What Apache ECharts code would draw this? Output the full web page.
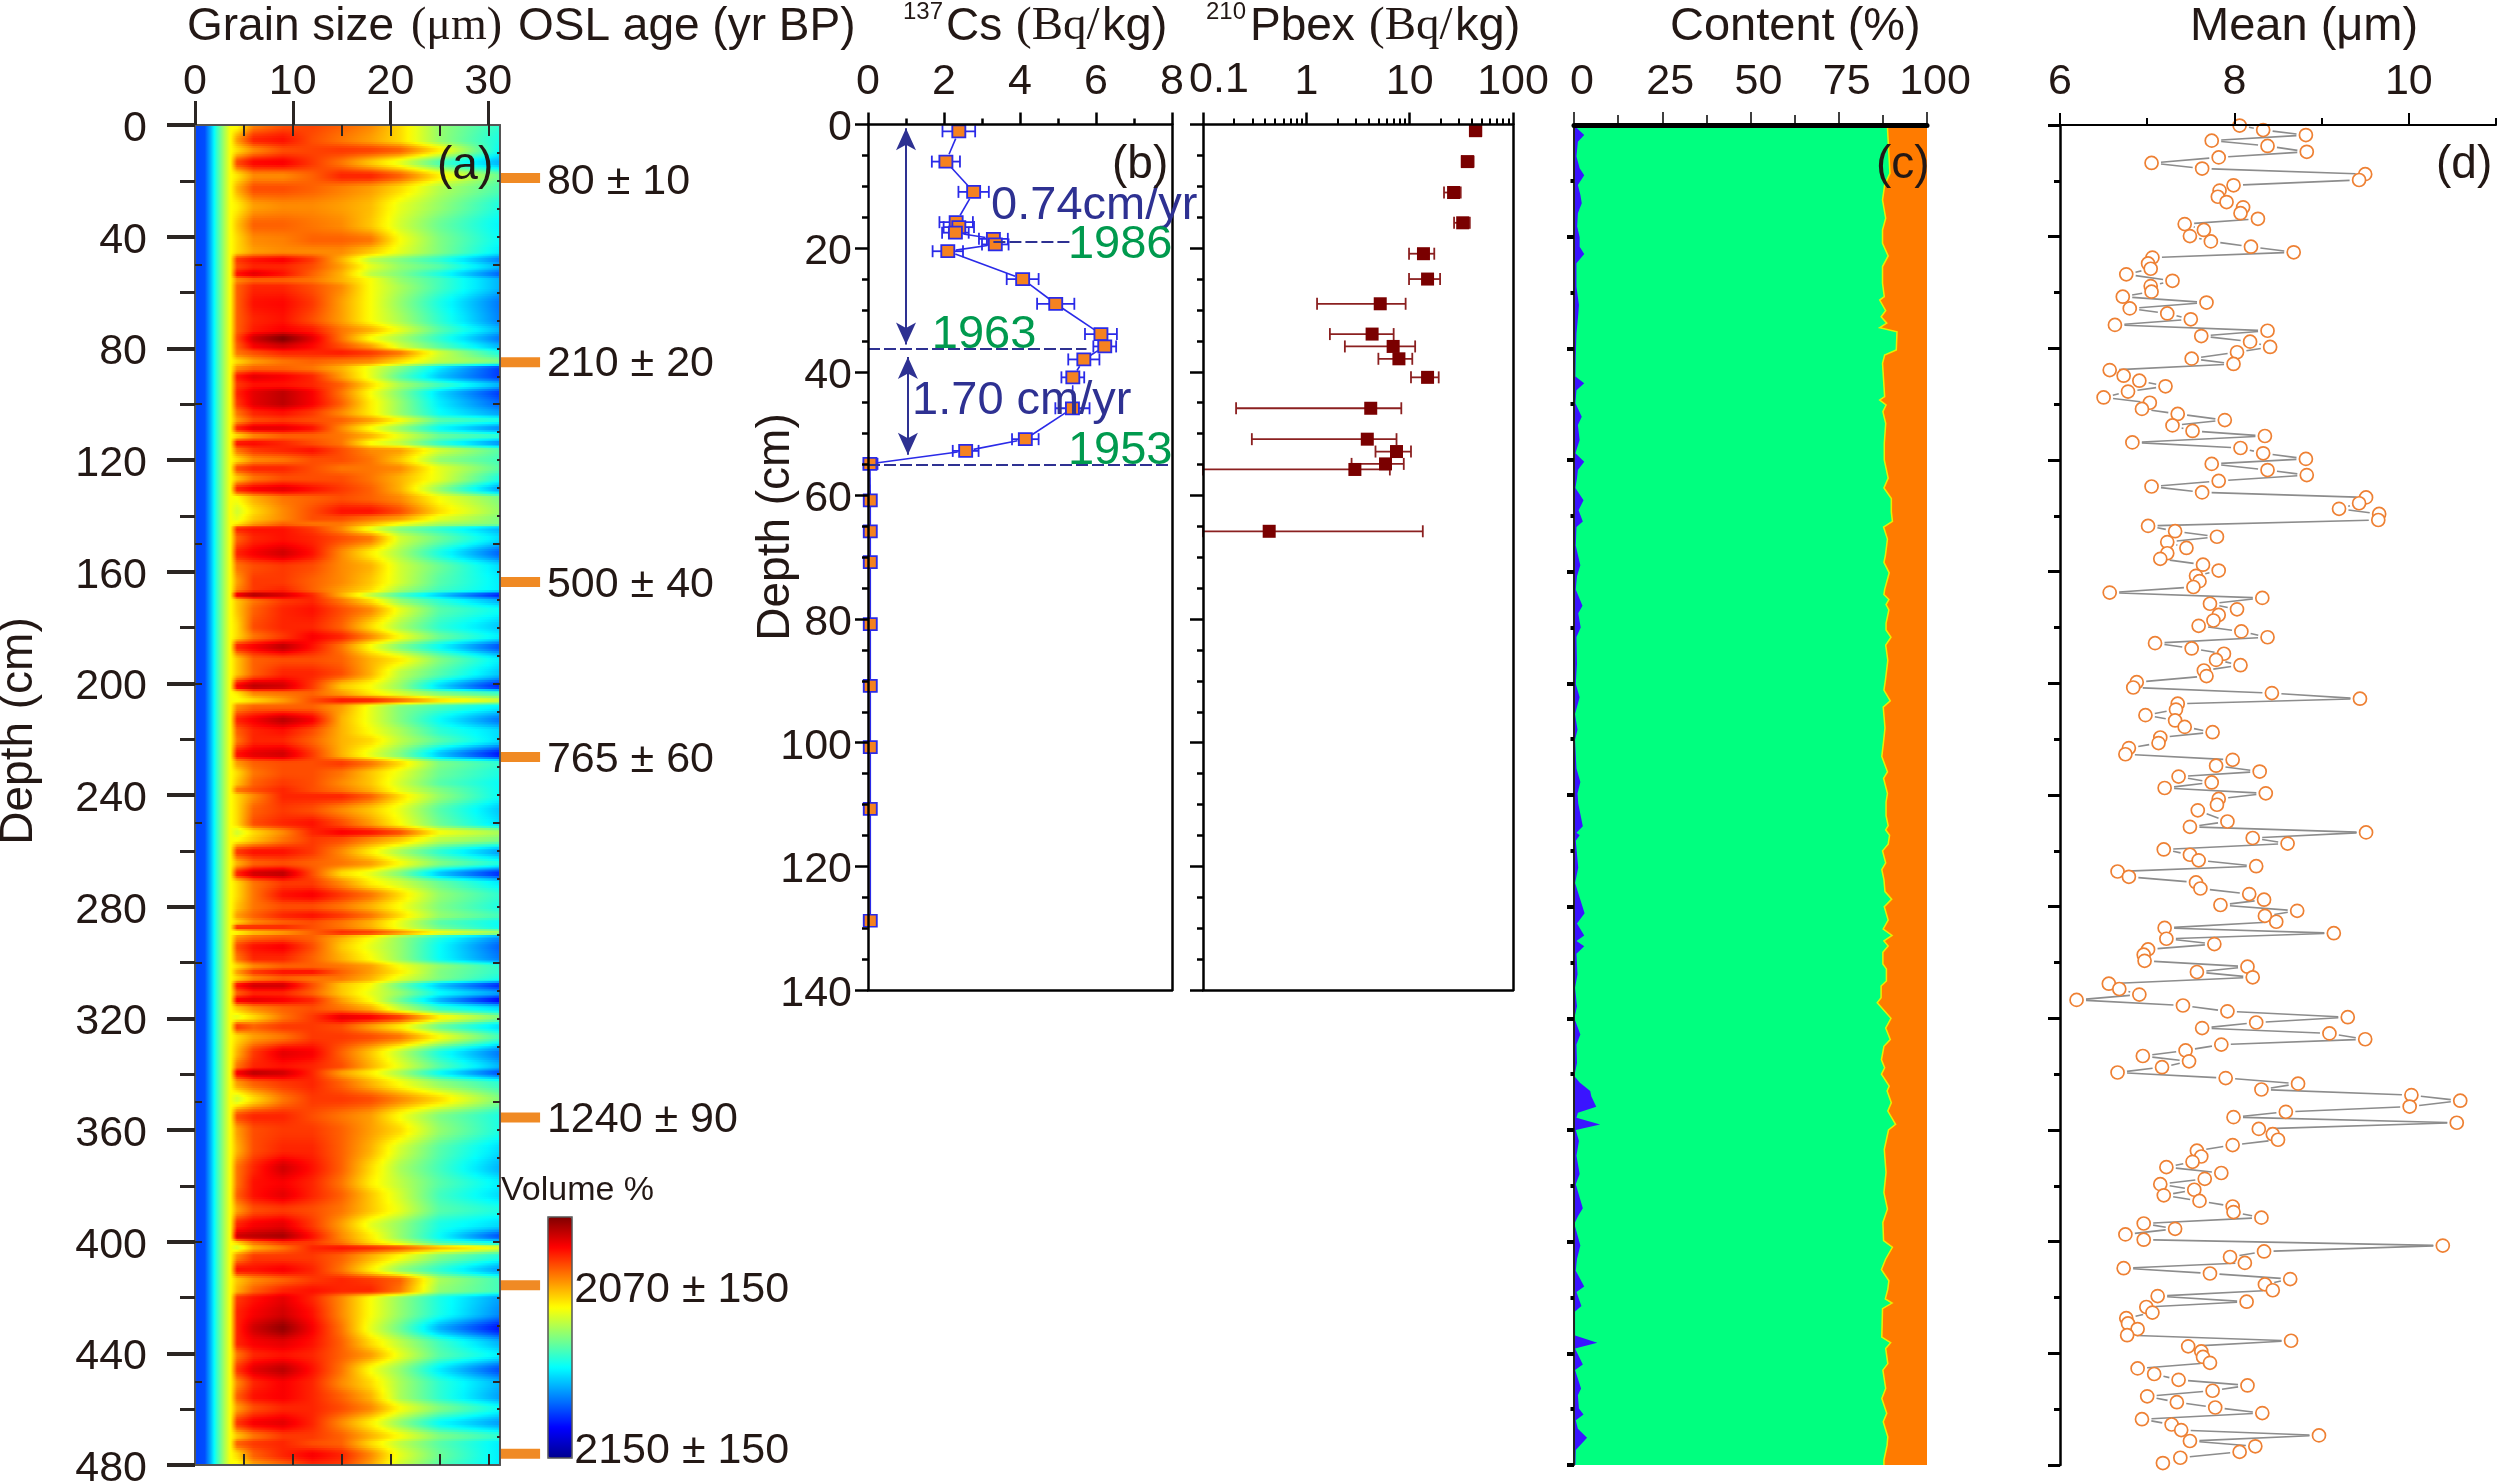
<!DOCTYPE html>
<html><head><meta charset="utf-8">
<style>html,body{margin:0;padding:0;background:#fff}#c{width:2500px;height:1483px}</style>
<script src="https://cdn.jsdelivr.net/npm/echarts@6/dist/echarts.min.js"></script>
</head><body><div id="c"></div>
<script>
// ---------- Panel (a): grain-size volume % read at these depths (cm) and sizes (um)
const edgeX=[0,1,1.6,2.2,3,3.6];
const edgeValues=[19,20,30,42,54,62];
const heatX=[4.3,6,9,12,15,18,21,25,31.2];
const heatDepth=[0,5.4,9,13.5,18.3,22.7,29.2,35.8,41.2,45.4,48.3,50.7,53.4,55.5,57.9,63.9,69.8,73.4,76.4,79.4,81.5,84.8,87.1,90.1,93.1,96,99.7,103.3,105.7,108.6,111.4,114,116.4,120,123,126.5,130.5,133.7,138.5,141,142.9,144.5,148,153.4,158.2,163.6,166.6,168.3,170.4,173.7,179.7,183.3,186.8,191.6,196.4,201.2,203.6,206.2,208.3,213.1,217.3,220.3,225.6,228.6,232.2,235.8,238.2,240.3,245.4,250.2,253.4,255.9,260.3,264.5,268.1,271.6,275.8,280,283.3,285.7,287.3,289.3,291,294.3,298.5,301.5,303.3,305.7,308.1,311,313.4,316.4,319.6,323,326.6,332.5,337.3,339.4,343.3,349,355.2,360,367.1,373.7,379.1,383.2,388.6,394,398.2,400.5,402,405.3,410.1,413.7,417.5,420.2,425.6,431,436.4,440.5,445.9,450.7,455.5,459.6,465,469.8,472.2,476.4,480];
const heatValues=[
[62,75,80,81,78,74,66,52,42],[72,84,86,80,76,72,66,52,40],[66,74,80,81,82,81,78,64,38],[80,87,88,82,76,68,60,45,30],[65,74,74,78,84,84,78,64,48],[70,80,80,78,75,72,66,55,45],[64,72,74,74,72,69,60,52,40],[68,78,78,76,74,68,58,48,37],[66,74,75,78,78,76,62,50,38],[66,72,74,74,74,68,60,50,36],
[82,86,88,82,70,56,50,42,25],[80,84,84,80,72,60,52,46,30],[86,90,86,78,70,56,50,40,22],[74,78,78,76,70,62,52,44,30],[78,84,84,80,74,62,54,44,30],[78,86,87,82,72,62,52,40,24],[78,84,86,80,72,62,54,42,25],[78,85,88,85,76,70,60,46,30],[80,92,100,90,76,62,54,42,24],[78,88,92,87,80,72,58,46,30],
[76,80,84,84,85,82,76,58,40],[66,72,76,78,76,74,66,56,50],[74,78,78,76,70,60,50,35,18],[85,90,88,84,72,60,46,32,18],[82,86,86,84,78,66,54,44,30],[84,90,94,88,76,62,50,34,18],[82,90,94,88,78,64,52,36,22],[76,84,86,82,74,64,52,38,28],[72,80,82,80,78,72,62,46,40],[84,90,90,86,74,62,52,38,26],
[66,74,78,78,76,70,60,48,42],[86,87,84,80,76,62,56,42,26],[76,82,84,86,80,74,72,58,46],[66,74,76,80,80,76,68,52,44],[80,84,84,80,76,76,74,60,46],[68,76,80,80,80,76,70,60,40],[84,88,90,86,82,78,70,52,28],[62,70,76,78,80,78,74,62,50],[58,66,74,80,86,86,80,66,52],[60,68,74,80,80,76,72,60,50],
[64,72,78,76,76,70,62,54,50],[84,86,86,82,74,60,50,42,30],[78,84,86,84,80,76,58,48,34],[84,88,92,86,74,64,54,40,22],[76,80,82,80,74,70,58,48,34],[72,82,82,78,74,68,58,46,36],[74,82,84,78,72,66,54,44,36],[90,96,92,84,70,56,44,32,14],[68,76,82,84,76,66,52,42,30],[68,78,84,86,80,74,60,46,38],
[66,80,84,84,78,66,54,42,32],[66,76,82,88,84,74,62,48,36],[84,88,94,86,76,62,50,38,20],[68,78,80,80,78,70,64,50,36],[68,78,84,84,80,70,56,46,32],[88,94,92,82,68,62,52,34,15],[64,74,76,78,72,64,58,50,44],[62,66,72,80,86,85,78,66,58],[74,78,78,78,72,60,50,44,36],[84,88,94,88,70,60,50,38,24],
[78,84,86,80,70,62,54,42,34],[76,84,84,78,70,66,56,46,34],[86,90,92,82,70,60,50,32,14],[72,78,80,80,82,76,66,50,42],[66,76,80,80,76,68,60,48,40],[68,78,82,80,74,68,58,46,38],[76,80,84,80,76,70,60,50,38],[66,74,84,84,84,78,66,52,38],[66,78,82,80,74,68,60,46,32],[66,80,84,86,80,72,62,48,34],
[58,66,74,84,88,86,80,62,54],[62,68,76,82,80,74,68,56,50],[82,86,86,82,74,64,54,42,28],[70,78,80,78,76,72,62,50,40],[84,92,94,80,66,60,50,32,16],[66,76,82,82,74,64,58,48,36],[66,76,86,88,82,76,66,52,42],[68,76,80,80,76,70,62,50,40],[72,78,84,86,82,76,66,52,44],[66,74,78,80,76,70,60,46,38],
[84,84,84,80,76,70,60,48,38],[62,68,72,78,84,82,74,62,54],[74,78,80,78,70,62,52,40,26],[80,86,88,80,68,60,52,38,22],[76,84,84,78,70,62,52,38,24],[66,74,78,78,76,72,62,52,42],[72,82,86,86,78,72,64,50,42],[66,74,78,76,76,70,60,50,40],[86,92,92,80,68,62,48,32,16],[78,84,84,78,68,60,52,38,28],
[88,90,88,84,72,62,48,30,12],[68,74,78,80,76,70,56,42,34],[60,66,76,82,90,88,82,64,50],[82,78,82,82,80,72,64,48,34],[66,72,76,82,82,80,76,62,44],[70,82,90,88,78,68,56,40,24],[76,84,86,84,80,70,60,46,30],[88,94,92,84,72,64,54,38,20],[72,78,82,84,78,70,62,52,42],[58,66,76,82,82,80,74,66,50],
[80,84,84,80,76,72,62,50,40],[72,80,82,82,78,72,66,52,40],[70,80,84,84,78,70,58,46,34],[76,84,92,86,78,66,54,44,30],[76,86,88,84,76,64,56,46,36],[78,86,90,84,78,68,58,44,34],[72,80,82,80,76,68,60,46,40],[84,88,90,82,72,60,52,40,34],[92,94,96,86,74,64,52,38,20],[66,76,82,82,76,66,58,44,38],
[58,70,76,84,86,84,80,70,60],[74,82,82,82,78,70,62,50,40],[86,86,88,84,76,64,52,42,28],[68,74,78,82,84,82,78,54,44],[70,78,84,86,84,84,76,52,44],[82,86,90,84,74,62,52,40,28],[84,88,92,86,74,62,52,40,26],[84,92,98,88,76,60,48,30,14],[84,88,90,86,78,66,56,44,30],[76,84,86,84,78,72,60,46,36],
[82,90,94,86,76,62,52,36,20],[74,84,88,84,74,66,54,42,30],[78,86,88,84,78,70,54,42,28],[72,80,84,84,80,74,62,50,38],[82,88,90,84,74,64,52,38,28],[68,76,82,82,78,70,62,50,42],[78,82,84,80,78,66,56,46,36],[66,78,84,88,84,74,60,48,36],[62,72,78,84,82,72,58,46,36]];
const oslDepth=[19,85,163.7,226.4,355.5,415.6,476];
const oslLabelDepth=[20.5,85.5,164.7,227.4,356.5,417.5,475];
const oslLabelX=[36,36,36,36,36,38.8,38.8];
const oslLabels=['80 ± 10','210 ± 20','500 ± 40','765 ± 60','1240 ± 90','2070 ± 150','2150 ± 150'];
// ---------- Panel (b): 137Cs
const csDepth=[1.1,6,10.9,15.8,16.6,17.5,18.5,19.4,20.5,25,29,33.9,35.9,38,40.9,45.9,50.9,52.8,54.9,60.8,65.8,70.8,80.8,90.8,100.7,110.7,128.8];
const csValue=[2.39,2.05,2.78,2.32,2.39,2.30,3.30,3.35,2.10,4.07,4.94,6.13,6.23,5.68,5.39,5.38,4.14,2.57,0.05,0.06,0.06,0.06,0.06,0.06,0.06,0.06,0.06];
const csError=[0.43,0.37,0.40,0.44,0.40,0.35,0.38,0.35,0.40,0.42,0.49,0.42,0.30,0.41,0.30,0.45,0.35,0.34,0.20,0,0,0,0,0,0,0,0];
const csNotes=[[3.24,13.2,'0.74cm/yr','#2e3192'],[1.16,44.7,'1.70 cm/yr','#2e3192'],[5.26,19.5,'1986','#009a4e'],[1.68,34,'1963','#009a4e'],[5.26,52.8,'1953','#009a4e']];
// ---------- Panel (b): 210Pbex
const pbDepth=[1,6,11,15.9,20.9,25,29,33.9,35.9,37.9,40.9,45.9,50.9,52.9,54.9,55.8,65.8];
const pbValue=[43.4,36.2,26.6,32.6,13.6,14.9,5.19,4.33,6.92,7.87,14.9,4.2,3.89,7.46,5.84,2.95,0.437];
const pbLow=[38.2,31.9,21.5,26.9,9.86,9.86,1.27,1.69,2.36,4.98,10.3,0.209,0.297,4.67,2.74,0.1,0.1];
const pbHigh=[49.4,41.6,31.2,38.2,17.3,19.7,9.14,7,11.3,10.6,19.1,8.3,7.46,10.3,8.77,6.43,13.4];
// ---------- Panel (c): content boundaries
const sandDepth=[0,1,17.3,21.5,26.9,33.4,37.6,42.4,46.9,50.7,56.7,61.5,62.7,66.5,68.7,71,72.6,74.1,80.6,82.4,85.4,91.3,97.3,98.5,100.3,102.7,106.9,114,120,126.5,130,133.8,138.6,142,144,148.3,154.3,156.7,160.4,166.4,168.2,170,171.8,173.7,178.5,180.9,183.5,186.3,191.8,199,202.4,206.3,208.5,216,220.8,226.2,231.7,234,239.5,242.5,247.4,251,252.5,254.4,257.6,260,264.3,266.7,270.3,274.6,277.3,280,284.8,288,290.3,292.3,294.1,296.3,300.5,302.3,306.6,308.4,312.6,314.4,320,323.5,327.6,330,334.8,337.7,340,344.3,346,350.2,353.2,358,360,366.9,375.2,382.4,388.3,393.1,399.6,402,406.2,410,414,417,420.5,422,424,434.2,436.2,438.3,443.7,446,452.6,456.2,461.5,464.5,469.9,472.9,478.2,480];
const sandValue=[88.8,88.8,89.5,88,87.4,88.3,87.4,87.4,89,87.4,87.4,87.9,86.6,88.3,87,88.6,86.6,91.5,91.3,88,87.4,87.7,88,86.6,88.4,87.5,88.3,87.9,87.9,89,87.8,89.9,89.9,90.2,87.7,88.8,88.2,87.8,89.3,88,87.8,89.2,88.4,89.2,88.4,88.4,89.8,88.3,88.9,88.2,87.8,89.6,87.6,88.1,87.7,87.2,88.8,87.7,88.8,88.4,88.4,89,88.3,89.4,89,87.4,88.3,87.2,87.8,88.1,90,87.9,89,87.6,90.1,87.8,89,87.5,87.5,88.5,88.5,87,87,85.9,89.8,88.3,89.6,87.8,87.1,88,87.1,89.3,88.7,89.9,88.9,91.1,89.1,87.9,88.4,87.8,88.8,87.5,87.7,90.2,88.3,87.1,89.2,88.9,88.2,90.1,87.4,87.2,89.7,88.3,88.9,87.5,88.3,87.2,88.6,87.6,88.9,88.7,87.8,87.8];
const clayDepth=[0,1,3.6,6,11.3,15.5,18,21.5,25,28,31.6,36.4,40.2,43.6,46.2,49.5,57.9,64.5,68,74.6,83,90.1,92.5,95,99.7,104.5,107.5,112.8,117.6,120.6,123.6,126.5,130,134.4,138,142,144,150.7,157.7,161.6,166.4,172.2,174.9,180,183.4,193,200.2,205,211,216.6,220.2,230.5,235.3,239.5,243,251.2,253.5,254.4,256.4,266.1,271.5,282.4,286,290.3,292.3,294.2,296.9,304.2,309,315.7,320,325.8,329.4,336,340.7,343,346,347.9,351.7,353.8,355.6,358,360,363.9,369.2,375.8,379.4,388,390.7,393.6,401.4,406.2,410.4,416.1,418,423,425,433.6,436.2,438.3,444,446,452.6,455,459.8,461.9,464,467,470.2,474.6,480];
const clayValue=[0.7,0.7,2.9,1.1,0.7,1.6,2.9,1.1,1.8,2.2,1.1,0.9,1.6,1.6,2.9,0.7,0.7,1.4,1.2,0.7,0.5,0.4,2.9,0.7,0.4,2.2,1.1,1.6,0.4,2.9,1.1,0.85,0.4,2.7,1.3,2.5,0.7,0.5,1.8,0.85,0.5,2.4,1.2,1.9,0.7,0.85,0.5,1.6,0.3,1,0.3,0.7,1.8,1,1.2,2.5,0.7,1.6,0.5,1.2,0.3,3,0.85,2.9,0.7,2.9,0.7,1,0.3,0.85,0.1,1.8,0.7,0.85,0.1,1.6,4.6,4.9,6.3,1.1,0.7,7.4,0.5,1.4,0.7,1.6,0.5,2.5,1.2,0.1,1.8,0.85,0.5,2.9,0.7,2.1,0.3,0.3,6.6,0.3,2.5,0.3,2,1.1,1.4,2.7,0.5,1.1,3.7,0.5,0.4];
// ---------- Panel (d): mean grain size
const meanDepth=[0.2,1.8,3.6,5.6,7.5,9.6,11.6,13.6,15.6,17.6,19.7,21.6,23.5,25.7,27.6,29.5,31.6,33.6,35.5,37.6,39.8,41.7,43.6,45.6,47.5,49.6,51.5,53.5,55.8,57.7,59.7,61.5,63.6,65.7,67.5,69.6,71.6,73.7,75.6,77.6,79.5,81.4,83.7,85.6,87.8,89.8,91.6,93.6,95.5,97.6,99.5,101.7,103.5,105.7,107.6,109.6,111.4,113.7,115.7,117.6,119.6,121.4,123.6,125.4,127.5,
129.5,131.6,133.4,135.5,137.5,139.3,141.5,143.6,145.5,147.5,149.4,151.5,153.4,155.4,157.5,159.6,161.5,163.4,165.5,167.5,169.4,171.5,173.5,175.5,177.5,179.4,181.4,183.5,185.6,187.5,189.4,191.6,193.5,195.4,197.4,199.6,201.5,203.5,205.5,207.3,209.4,211.4,213.3,215.6,217.5,219.4,221.4,223.2,225.4,227.4,229.5,231.6,233.4,235.5,237.5,239.4,241.4,243.5,245.5,249.5,251.4,253.4,255.4,257.4,259.5,261.4,263.4,265.5,267.4,269.3,271.3,273.5,275.5,277.5,279.4,281.5,283.3,285.4,287.6,289.5,291.5,293.4,295.3,297.2,299.4,301.5,303.4,305.3,
307.6,309.5,311.5,313.4,315.4,317.5,319.6,321.5,323.5,325.4,327.5,329.4,331.5,333.5,335.4,337.5,339.4,341.4,343.4,345.5,347.5,349.5,351.6,353.5,355.4,357.4,359.6,361.5,363.5,365.4,367.4,369.5,371.4,373.3,375.4,377.5,379.4,381.4,383.4,385.4,387.4,389.4,391.4,393.5,395.4,397.4,399.3,401.4,403.5,405.5,407.6,409.5,411.4,413.4,415.3,417.4,419.5,421.5,423.4,425.4,427.4,429.3,431.3,433.5,435.5,437.5,439.3,441.3,443.4,445.4,447.4,449.5,451.5,453.4,455.4,457.5,459.4,461.4,463.6,465.5,467.5,469.4,471.4,473.3,475.3,477.4,479.3];
const meanValue=[8.06,8.33,8.82,7.74,8.38,8.83,7.82,7.05,7.63,9.50,9.43,7.99,7.83,7.81,7.91,8.10,8.07,8.27,7.43,7.65,7.49,7.73,8.19,8.68,7.06,7.01,7.04,6.76,7.29,7.04,7.05,6.72,7.68,6.80,7.23,7.50,6.63,8.38,7.62,8.18,8.41,8.03,7.51,7.99,6.57,6.73,6.91,7.21,6.78,6.50,7.03,6.94,7.35,7.89,7.29,7.52,8.35,6.83,8.07,8.33,8.82,7.74,8.38,8.83,7.82,
7.05,7.63,9.51,9.43,9.20,9.66,9.65,7.01,7.32,7.80,7.23,7.45,7.23,7.15,7.64,7.82,7.56,7.60,7.53,6.57,8.32,7.72,8.03,7.82,7.76,7.59,8.08,8.38,7.09,7.51,7.88,7.79,8.07,7.65,7.68,6.88,6.84,8.43,9.44,7.35,7.33,6.98,7.32,7.43,7.75,7.15,7.13,6.79,6.75,7.98,7.79,8.29,7.36,7.74,7.20,8.36,7.82,7.80,7.58,7.92,7.49,9.51,8.21,8.61,7.19,7.49,7.59,8.25,6.66,6.79,7.56,7.61,8.17,8.34,7.84,8.72,8.35,8.48,7.20,9.14,7.22,7.77,7.01,6.96,6.97,8.15,7.57,8.21,
6.56,6.68,6.91,6.19,7.41,7.92,9.30,8.25,7.63,9.09,9.50,7.85,7.44,6.95,7.48,7.17,6.66,7.90,8.73,8.31,10.03,10.59,10.01,8.59,7.99,10.55,8.28,8.44,8.50,7.98,7.57,7.62,7.52,7.22,7.85,7.66,7.15,7.54,7.19,7.60,7.98,7.99,8.31,6.96,7.32,6.75,6.96,10.39,8.34,7.95,8.12,6.73,7.72,8.64,8.35,8.44,7.12,8.14,6.99,7.06,6.76,6.78,6.89,6.77,8.65,7.47,7.62,7.64,7.72,6.89,7.08,7.36,8.15,7.75,7.00,7.34,7.78,8.32,6.94,7.28,7.39,8.97,7.49,8.24,8.06,7.38,7.18];
// ---------- tick values and colours
const jet=['#00008f','#0000ff','#0080ff','#00ffff','#80ff80','#ffff00','#ff8000','#ff0000','#800000'];
const INK='#231815', SANS='"Liberation Sans"', SERIF='"Liberation Serif"';
const range=(a,b,s)=>{const r=[];for(let v=a;v<=b+1e-9;v+=s)r.push(Math.round(v*1000)/1000);return r;};
const notIn=(l,m)=>l.filter(v=>!m.includes(v));

const grids=[
 {left:195,top:125,width:305,height:1340,outerBoundsMode:'none'},
 {left:868,top:124.5,width:304,height:865.5,outerBoundsMode:'none'},
 {left:1203,top:124.5,width:310,height:865.5,outerBoundsMode:'none'},
 {left:1574,top:125,width:353,height:1340,outerBoundsMode:'none'},
 {left:2060,top:125,width:436,height:1340,outerBoundsMode:'none'}];
const xSpec=[{type:'value',min:0,max:31.2},{type:'value',min:0,max:8},{type:'log',logBase:10,min:0.1,max:100},{type:'value',min:0,max:100},{type:'value',min:6,max:11}];
const ySpec=[{min:0,max:480},{min:0,max:140},{min:0,max:140},{min:0,max:480},{min:0,max:480}];
const xAxes=xSpec.map((s,g)=>({...s,gridIndex:g,show:false}));
const yAxes=ySpec.map((s,g)=>({type:'value',...s,inverse:true,gridIndex:g,show:false}));
function base(o){return {show:true,z:6,splitLine:{show:false},minorTick:{show:false},axisLine:{show:!!o.line,onZero:false,lineStyle:o.line||{}},
  axisTick:{show:!!o.vals,customValues:o.vals||[],length:o.len||1,inside:!!o.inside,lineStyle:{color:o.color||'#000',width:o.w||2}},
  axisLabel:o.labels?Object.assign({show:true,customValues:o.labels,margin:o.margin,color:INK,fontFamily:SANS,fontSize:43,hideOverlap:false,showMinLabel:true,showMaxLabel:true,padding:o.padding||0},o.labelExtra||{}):{show:false}};}
function X(g,pos,o){xAxes.push({...xSpec[g],gridIndex:g,position:pos,...base(o)});}
function Y(g,pos,o){yAxes.push({type:'value',...ySpec[g],inverse:true,gridIndex:g,position:pos,...base(o)});}
const dk='#2b2623';
const TOPM=21, YLBL={verticalAlign:'top',lineHeight:8};
// panel a
X(0,'top',{vals:[0,10,20,30],len:24,w:3,color:dk,labels:[0,10,20,30],margin:TOPM,line:{color:'#555',width:2}});
X(0,'top',{vals:range(5,30,5),len:11,inside:true,w:2,color:dk});
X(0,'bottom',{vals:range(5,30,5),len:11,inside:true,w:2,color:dk,line:{color:'#555',width:2}});
Y(0,'left',{vals:range(0,480,40),len:28,w:4,color:dk,labels:range(0,480,40),margin:48,labelExtra:YLBL,line:{color:'#555',width:2}});
Y(0,'left',{vals:notIn(range(20,480,20),range(0,480,40)),len:15,w:3,color:dk});
Y(0,'left',{vals:range(50,450,50),len:7,inside:true,w:2,color:dk});
Y(0,'right',{vals:range(50,450,50),len:7,inside:true,w:2,color:dk,line:{color:'#555',width:2}});
Y(0,'right',{vals:notIn(range(10,470,10),range(50,450,50)),len:3,inside:true,w:2,color:dk});
// panel b Cs
const bl={color:'#000',width:2.5};
X(1,'top',{vals:[0,2,4,6,8],len:12,w:2.5,labels:[0,2,4,6,8],margin:TOPM,line:bl});
X(1,'top',{vals:[1,3,5,7],len:6,w:2.5});
X(1,'bottom',{line:bl});
Y(1,'left',{vals:range(0,140,20),len:13,w:2.5,labels:range(0,140,20),margin:16,labelExtra:YLBL,line:bl});
Y(1,'left',{vals:notIn(range(5,135,5),range(0,140,20)),len:6,w:2.5});
Y(1,'right',{line:bl});
// panel b Pb
const pbMinor=[0.2,0.3,0.4,0.5,0.6,0.7,0.8,0.9,2,3,4,5,6,7,8,9,20,30,40,50,60,70,80,90];
X(2,'top',{vals:[0.1,1,10,100],len:12,w:2.5,labels:[1,10,100],margin:TOPM,line:bl});
X(2,'top',{vals:pbMinor,len:6,w:2});
X(2,'bottom',{line:bl});
Y(2,'left',{vals:range(0,140,20),len:13,w:2.5,line:bl});
Y(2,'left',{vals:notIn(range(5,135,5),range(0,140,20)),len:6,w:2.5});
Y(2,'right',{line:bl});
// panel c
X(3,'top',{vals:[0,25,50,75,100],len:13,w:1.5,labels:[0,25,50,75,100],margin:TOPM,padding:[0,0,0,16],line:{color:'#000',width:5}});
X(3,'top',{vals:[12.5,37.5,62.5,87.5],len:10,w:1.5});
Y(3,'left',{vals:range(40,480,40),len:7,w:4,line:{color:'#222',width:2}});
Y(3,'left',{vals:notIn(range(20,480,20),range(0,480,40)),len:3.5,w:4});
// panel d
X(4,'top',{vals:[6,8,10],len:12,w:2,labels:[6,8,10],margin:TOPM,line:{color:'#000',width:2}});
X(4,'top',{vals:[7,9,11],len:7,w:2});
Y(4,'left',{vals:range(0,480,40),len:12,w:3,line:{color:'#000',width:2.5}});
Y(4,'left',{vals:notIn(range(20,480,20),range(0,480,40)),len:6,w:3});

const on=g=>({xAxisIndex:g,yAxisIndex:g,coordinateSystem:'cartesian2d'});
const heatColor=v=>echarts.color.lerp(Math.max(0,Math.min(1,v/100)),jet);
const allX=edgeX.concat(heatX);
function heatStrip(params,api){
  const i=params.dataIndex; if(i>=heatDepth.length-1) return null;
  const a=edgeValues.concat(heatValues[i]), b=edgeValues.concat(heatValues[i+1]);
  const x0=api.coord([0,0])[0], x1=api.coord([31.2,0])[0];
  const y0=api.coord([0,heatDepth[i]])[1], y1=api.coord([0,heatDepth[i+1]])[1];
  const n=Math.max(2,Math.ceil((y1-y0)/2.5)), kids=[];
  for(let s=0;s<n;s++){
    const t=(s+0.5)/n, u=t*t*(3-2*t), stops=[];
    for(let k=0;k<allX.length-1;k++){
      const va=a[k]+(b[k]-a[k])*u, vb=a[k+1]+(b[k+1]-a[k+1])*u;
      for(let j=0;j<5;j++){const f=j/5;stops.push({offset:(allX[k]+(allX[k+1]-allX[k])*f)/31.2,color:heatColor(va+(vb-va)*f)});}
    }
    stops.push({offset:1,color:heatColor(a[a.length-1]+(b[b.length-1]-a[a.length-1])*u)});
    kids.push({type:'rect',shape:{x:x0,y:y0+(y1-y0)*s/n,width:x1-x0,height:(y1-y0)/n+(s===n-1&&i===heatDepth.length-2?0:1)},
      style:{fill:new echarts.graphic.LinearGradient(x0,0,x1,0,stops,true)}});
  }
  return {type:'group',children:kids};
}
function segment(xs,ys,gap,color,width){return (params,api)=>{
  const i=params.dataIndex; if(i===0) return null;
  const p=api.coord([xs[i-1],ys[i-1]]), q=api.coord([xs[i],ys[i]]);
  const dx=q[0]-p[0],dy=q[1]-p[1],L=Math.hypot(dx,dy);
  const g=(xs[i]<0.1&&xs[i-1]<0.1)?0:gap;
  if(L<=2*g+1) return null;
  const ux=dx/L,uy=dy/L;
  return {type:'line',shape:{x1:p[0]+ux*g,y1:p[1]+uy*g,x2:q[0]-ux*g,y2:q[1]-uy*g},style:{stroke:color,lineWidth:width,fill:null}};
};}
function errorBars(xs,ys,lo,hi,color){return (params,api)=>{
  const i=params.dataIndex; if(hi[i]===lo[i]) return null;
  const a=api.coord([lo[i],ys[i]]), b=api.coord([hi[i],ys[i]]), c=6, st={stroke:color,lineWidth:1.8,fill:null};
  return {type:'group',children:[
    {type:'line',shape:{x1:a[0],y1:a[1],x2:b[0],y2:b[1]},style:st},
    {type:'line',shape:{x1:a[0],y1:a[1]-c,x2:a[0],y2:a[1]+c},style:st},
    {type:'line',shape:{x1:b[0],y1:b[1]-c,x2:b[0],y2:b[1]+c},style:st}]};
};}
function area(points,fill){return (params,api)=>{
  if(params.dataIndex!==0) return null;
  return {type:'polygon',shape:{points:points.map(p=>api.coord(p))},style:{fill:fill}};
};}
function edge(points,stroke){return (params,api)=>{
  if(params.dataIndex!==0) return null;
  return {type:'polyline',shape:{points:points.map(p=>api.coord(p))},style:{fill:null,stroke:stroke,lineWidth:1.5}};
};}
const sandPts=sandDepth.map((d,i)=>[sandValue[i],d]);
const clayPts=clayDepth.map((d,i)=>[clayValue[i],d]);
const csLo=csValue.map((v,i)=>Math.max(0,v-csError[i])), csHi=csValue.map((v,i)=>v+csError[i]);
const arrowLine={silent:true,animation:false,label:{show:false},symbol:['arrow','arrow'],symbolSize:[15,22],
  lineStyle:{color:'#2e3192',width:2,type:'solid',opacity:1},emphasis:{disabled:true},
  data:[
   [{coord:[1.0,0.6]},{coord:[1.0,35.6]}],
   [{coord:[1.05,37.6]},{coord:[1.05,53.4]}],
   [{coord:[0,36.3],symbol:'none',lineStyle:{type:[12,4],width:2,color:'#2e3192'}},{coord:[5.75,36.3],symbol:'none'}],
   [{coord:[0,55],symbol:'none',lineStyle:{type:[12,4],width:2,color:'#2e3192'}},{coord:[8,55],symbol:'none'}],
   [{coord:[3.3,19],symbol:'none',lineStyle:{type:[12,4],width:2,color:'#2e3192'}},{coord:[5.38,19],symbol:'none'}]]};

const series=[
 {type:'custom',name:'Grain size',...on(0),silent:true,z:2,clip:true,data:heatDepth.map((d,i)=>[15,d,(heatValues[i]||[])[3]]),renderItem:heatStrip,animation:false},
 {type:'custom',name:'OSL age',...on(0),silent:true,z:3,data:oslDepth.map((d,i)=>[31.2,d]),animation:false,renderItem:(params,api)=>{
   const i=params.dataIndex,a=api.coord([31.2,oslDepth[i]]),b=api.coord([35.3,oslDepth[i]]),t=api.coord([oslLabelX[i],oslLabelDepth[i]]);
   return {type:'group',children:[
     {type:'rect',shape:{x:a[0]+1,y:a[1]-5,width:b[0]-a[0]-1,height:10},style:{fill:'#f08a24'}},
     {type:'text',x:t[0],y:t[1],style:{text:oslLabels[i],font:'43px '+SANS,fill:INK,textAlign:'left',textVerticalAlign:'middle'}}]};
 }},
 {type:'custom',name:'Cs error',...on(1),silent:true,z:3,data:csDepth.map((d,i)=>[csValue[i],d]),renderItem:errorBars(csValue,csDepth,csLo,csHi,'#2a2ae8'),animation:false},
 {type:'custom',name:'Cs line',...on(1),silent:true,z:3,data:csDepth.map((d,i)=>[csValue[i],d]),renderItem:segment(csValue,csDepth,8,'#2a2ae8',1.6),animation:false},
 {type:'scatter',name:'137Cs',...on(1),silent:true,z:4,symbol:'rect',symbolSize:[13,12],clip:false,itemStyle:{color:'#f58220',borderColor:'#2a2ae8',borderWidth:1.8,opacity:1},data:csDepth.map((d,i)=>[csValue[i],d]),markLine:arrowLine,animation:false},
 {type:'custom',name:'Cs notes',...on(1),silent:true,z:7,data:csNotes.map(n=>[n[0],n[1]]),animation:false,renderItem:(params,api)=>{
   const n=csNotes[params.dataIndex],p=api.coord([n[0],n[1]]);
   return {type:'text',x:p[0],y:p[1],style:{text:n[2],font:'47px '+SANS,fill:n[3],textAlign:'left',textVerticalAlign:'middle'}};
 }},
 {type:'custom',name:'Pb error',...on(2),silent:true,z:3,data:pbDepth.map((d,i)=>[pbValue[i],d]),renderItem:errorBars(pbValue,pbDepth,pbLow,pbHigh,'#8b2020'),animation:false},
 {type:'scatter',name:'210Pbex',...on(2),silent:true,z:4,symbol:'rect',symbolSize:13,clip:false,itemStyle:{color:'#7a0000',opacity:1},data:pbDepth.map((d,i)=>[pbValue[i],d]),animation:false},
 {type:'custom',name:'Sand',...on(3),silent:true,z:2,data:sandPts,animation:false,renderItem:area([[100,0],...sandPts,[100,480]],'#ff7b00')},
 {type:'custom',name:'Silt',...on(3),silent:true,z:3,data:sandPts,animation:false,renderItem:area([[0,0],...sandPts,[0,480]],'#00ff7f')},
 {type:'custom',name:'Sand edge',...on(3),silent:true,z:3,data:sandPts,animation:false,renderItem:edge(sandPts,'#e6f000')},
 {type:'custom',name:'Clay',...on(3),silent:true,z:4,data:clayPts,animation:false,renderItem:area([[0,0],...clayPts,[0,480]],'#3a14ff')},
 {type:'custom',name:'Mean line',...on(4),silent:true,z:3,data:meanDepth.map((d,i)=>[meanValue[i],d]),renderItem:segment(meanValue,meanDepth,9.5,'#8c8c8c',1.6),animation:false},
 {type:'scatter',name:'Mean',...on(4),silent:true,z:4,symbol:'circle',symbolSize:13,clip:false,itemStyle:{color:'#fff',borderColor:'#ee8033',borderWidth:1.7,opacity:1},data:meanDepth.map((d,i)=>[meanValue[i],d]),animation:false}
];
const T=(text,x,y,size,extra)=>({type:'text',z:20,silent:true,x:x,y:y,style:Object.assign({text:text,font:(size||46)+'px '+SANS,fill:INK,textAlign:'left',textVerticalAlign:'middle'},extra||{})});
const TY=27;
const elements=[
 T('Grain size',187,TY),
 T('(μm)',411,TY,46,{font:'46px '+SERIF}),
 T('OSL age (yr BP)',518,TY),
 T('137',903,12,24),T('Cs',946,TY),T('(Bq/',1016,TY,47,{font:'47px '+SERIF}),T('kg)',1102,TY,47),
 T('210',1206,12,24),T('Pbex',1250,TY),T('(Bq/',1369,TY,47,{font:'47px '+SERIF}),T('kg)',1455,TY,47),
 T('Content (%)',1670,TY,47),T('Mean (μm)',2190,TY,47),
 T('0.1',1219,80,43,{textAlign:'center'}),
 T('(a)',437,166),T('(b)',1112,165),T('(c)',1876,165),T('(d)',2436,165),
 T('Volume %',501,1191,34),
 Object.assign(T('Depth (cm)',19,731),{rotation:Math.PI/2,style:{text:'Depth (cm)',font:'46px '+SANS,fill:INK,textAlign:'center',textVerticalAlign:'middle'}}),
 Object.assign(T('Depth (cm)',776,527),{rotation:Math.PI/2,style:{text:'Depth (cm)',font:'46px '+SANS,fill:INK,textAlign:'center',textVerticalAlign:'middle'}}),
 {type:'rect',z:20,silent:true,shape:{x:548,y:1217,width:24,height:241},style:{fill:null,stroke:'#555',lineWidth:1.5}}
];
const chart=echarts.init(document.getElementById('c'),null,{renderer:'canvas',width:2500,height:1483});
chart.setOption({animation:false,backgroundColor:'#fff',grid:grids,xAxis:xAxes,yAxis:yAxes,series:series,
 visualMap:[{type:'continuous',min:0,max:100,seriesIndex:0,dimension:2,left:548,top:1217,itemWidth:24,itemHeight:241,text:null,calculable:false,showLabel:false,hoverLink:false,padding:0,inRange:{color:jet}}],
 graphic:{elements:elements}});
</script></body></html>
